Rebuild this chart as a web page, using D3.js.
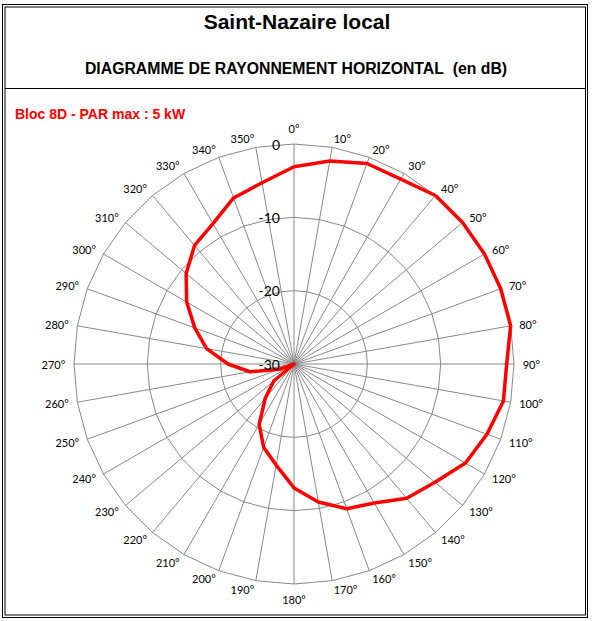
<!DOCTYPE html>
<html>
<head>
<meta charset="utf-8">
<script src="https://d3js.org/d3.v7.min.js"></script>
<style>
  body { margin: 0; background: white; }
</style>
</head>
<body>
<div id="chart"></div>
<script>
// angle categories (degrees) and the level in dB
var angles = [0, 10, 20, 30, 40, 50, 60, 70, 80, 90, 100, 110,
              120, 130, 140, 150, 160, 170, 180, 190, 200, 210, 220, 230,
              240, 250, 260, 270, 280, 290, 300, 310, 320, 330, 340, 350];
var levels = [-3.1, -1.9, -0.9, -0.9, 0, 0, 0, 0, 0, -1, -1, -2,
              -3, -4.9, -6.1, -8.1, -9, -10.9, -13.1, -16, -17.9, -20.5, -23.9, -26.4,
              -30, -27.9, -23.9, -21, -17.9, -15.6, -13.1, -10.8, -8.9, -7.9, -5.9, -4.9];
var ringValues = [0, -10, -20, -30];
var ringLabels = ['0', '-10', '-20', '-30'];

var svgWidth = 592,
    svgHeight = 621;
var cx = 294, cy = 364, outerR = 220;
var labelGap = 8.7;

var svg = d3.select('#chart').append('svg')
    .attr('width', svgWidth)
    .attr('height', svgHeight)
    .style('background', 'white')
    .style('display', 'block');

var r = d3.scaleLinear().domain([-30, 0]).range([0, outerR]);
var a = d3.scaleLinear().domain([0, 360]).range([0, 2 * Math.PI]);

//double frame
svg.append('rect')
    .attr('x', 2.5).attr('y', 4.5).attr('width', 585).attr('height', 613)
    .attr('fill', 'none').attr('stroke', 'black').attr('stroke-width', 1);
svg.append('rect')
    .attr('x', 5).attr('y', 7).attr('width', 580.5).attr('height', 608)
    .attr('fill', 'none').attr('stroke', 'black').attr('stroke-width', 1);

//title box separator
svg.append('line')
    .attr('x1', 5).attr('y1', 88.5).attr('x2', 585.5).attr('y2', 88.5)
    .attr('stroke', 'black').attr('stroke-width', 1);

//titles
svg.append('text')
    .text('Saint-Nazaire local')
    .attr('x', 297).attr('y', 29)
    .attr('text-anchor', 'middle')
    .attr('font-family', 'Liberation Sans, Arial, sans-serif')
    .attr('font-size', '21px').attr('font-weight', 'bold')
    .attr('fill', 'black');

svg.append('text')
    .text('DIAGRAMME DE RAYONNEMENT HORIZONTAL\u00a0 (en dB)')
    .attr('x', 296).attr('y', 74)
    .attr('text-anchor', 'middle')
    .attr('font-family', 'Liberation Sans, Arial, sans-serif')
    .attr('font-size', '15.8px').attr('font-weight', 'bold')
    .attr('fill', 'black');

svg.append('text')
    .text('Bloc 8D - PAR max : 5 kW')
    .attr('x', 15).attr('y', 119)
    .attr('font-family', 'Liberation Sans, Arial, sans-serif')
    .attr('font-size', '14px').attr('font-weight', 'bold')
    .attr('fill', 'red');

var g = svg.append('g').attr('transform', 'translate(' + cx + ',' + cy + ')');

//spokes
g.selectAll('.spoke')
    .data(angles)
    .enter().append('line')
    .attr('class', 'spoke')
    .attr('x1', 0).attr('y1', 0)
    .attr('x2', function(d) { return r(0) * Math.sin(a(d)); })
    .attr('y2', function(d) { return -r(0) * Math.cos(a(d)); })
    .attr('stroke', '#888').attr('stroke-width', 1);

//rings (polygons through the spokes)
g.selectAll('.ring')
    .data(ringValues.filter(function(v) { return v > -30; }))
    .enter().append('path')
    .attr('class', 'ring')
    .attr('d', function(v) {
        return d3.lineRadial()
            .angle(function(d) { return a(d); })
            .radius(r(v))
            .curve(d3.curveLinearClosed)(angles);
    })
    .attr('fill', 'none').attr('stroke', '#888').attr('stroke-width', 1);

//angle labels, pushed out beside the spoke end like excel does
g.selectAll('.alabel')
    .data(angles)
    .enter().append('text')
    .attr('class', 'alabel')
    .text(function(d) { return d + '°'; })
    .attr('text-anchor', 'middle')
    .attr('dominant-baseline', 'central')
    .attr('font-family', 'Lato, Open Sans, sans-serif')
    .attr('font-size', '11px')
    .attr('fill', 'black')
    .each(function(d) {
        var w = this.getComputedTextLength(), h = 13;
        var s = Math.sin(a(d)), c = Math.cos(a(d));
        var sx = Math.abs(s) < 1e-6 ? 0 : Math.sign(s);
        var x = r(0) * s + sx * w / 2 + labelGap * s;
        var y = -r(0) * c - labelGap * c - (sx === 0 ? Math.sign(c) * h / 2 : 0);
        d3.select(this).attr('x', x).attr('y', y);
    });

//data line
g.append('path')
    .datum(angles)
    .attr('d', d3.lineRadial()
        .angle(function(d) { return a(d); })
        .radius(function(d, i) { return r(levels[i]); })
        .curve(d3.curveLinearClosed))
    .attr('fill', 'none')
    .attr('stroke', '#ff0000').attr('stroke-width', 3.5)
    .attr('stroke-linejoin', 'round');

//value labels on the vertical axis
g.selectAll('.vlabel')
    .data(ringValues)
    .enter().append('text')
    .attr('class', 'vlabel')
    .text(function(d, i) { return ringLabels[i]; })
    .attr('x', -14)
    .attr('y', function(d) { return -r(d); })
    .attr('text-anchor', 'end')
    .attr('dominant-baseline', 'central')
    .attr('font-family', 'Lato, Open Sans, sans-serif')
    .attr('font-size', '14px')
    .attr('fill', 'black');
</script>
</body>
</html>
